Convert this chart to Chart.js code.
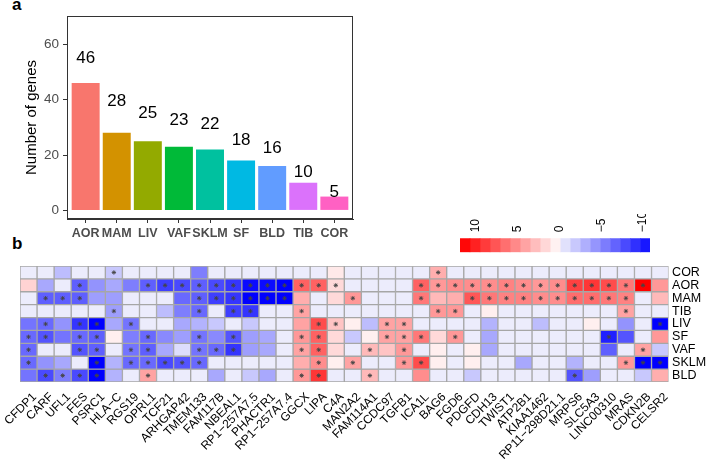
<!DOCTYPE html>
<html><head><meta charset="utf-8">
<script src="https://cdn.jsdelivr.net/npm/chart.js@4.4.0/dist/chart.umd.min.js"></script>
<style>
html,body{margin:0;padding:0;background:#fff;width:706px;height:460px;overflow:hidden;font-family:"Liberation Sans",Arial,sans-serif;}
canvas{position:absolute;}
.plabel{position:absolute;font-weight:bold;font-size:17px;line-height:17px;color:#000;}
</style></head><body>
<div class="plabel" style="left:12px;top:-4px">a</div>
<div class="plabel" style="left:12px;top:235px">b</div>
<canvas id="bar" width="360" height="245" style="left:0;top:0"></canvas>
<canvas id="key" width="210" height="51" style="left:455px;top:205px"></canvas>
<canvas id="heat" width="706" height="204" style="left:0;top:256px"></canvas>
<script>
// ---------- panel a data ----------
const tissues = ['AOR','MAM','LIV','VAF','SKLM','SF','BLD','TIB','COR'];
const geneCounts = [46,28,25,23,22,18,16,10,5];
const tissueColors = ['#F8766D','#D39200','#93AA00','#00BA38','#00C19F','#00B9E3','#619CFF','#DB72FB','#FF61C3'];
const countTicks = [0,20,40,60];

// ---------- panel b data ----------
const genes = ['CFDP1','CARF','UFL1','FES','PSRC1','HLA\u2212C','RGS19','OPRL1','TCF21','ARHGAP42',
  'TMEM133','FAM117B','NBEAL1','RP1\u2212257A7.5','PHACTR1','RP1\u2212257A7.4','GGCX','LIPA','C4A','MAN2A2',
  'FAM114A1','CCDC97','TGFB1','ICA1L','BAG6','FGD6','PDGFD','CDH13','TWIST1','ATP2B1',
  'KIAA1462','RP11\u2212298D21.1','MRPS6','SLC5A3','LINC00310','MRAS','CDKN2B','CELSR2'];
const rowNames = ['COR','AOR','MAM','TIB','LIV','SF','VAF','SKLM','BLD'];

const zCOR  = [-0.3,-0.3,-2.5,-0.3,-0.3,-2,-0.3,-0.3,-0.3,-0.3, -5.5,-0.3,-0.3,-0.3,-0.3,-0.3,-0.3,-0.3,0.8,-0.3, -0.3,-0.3,-0.3,-0.3,3.5,-0.3,-0.3,-0.3,-0.3,-0.3, -0.3,-0.3,-0.3,-0.3,-0.3,-0.3,-0.3,-0.3];
const zAOR  = [1.8,-3.5,-0.3,-7,-4.5,-3.5,-5.5,-7,-8.5,-8, -7,-8,-9,-11,-11,-12,7,7,1.5,-0.3, -0.3,-0.3,-0.3,7,4.5,5,5,5,5.5,5, 4.5,5,8.5,9,8,6,12,4.5];
const zMAM  = [-0.3,-7,-7,-7,-4,-4,-0.3,-0.3,-0.3,-6.5, -7,-8.5,-9,-12,-12,-12,3.5,-0.3,1.5,4.5, -0.3,-0.3,-0.3,6,3,3.5,7.5,6,5.5,5.5, 5,5,6.5,6.5,6,5.5,-0.3,3];
const zTIB  = [-0.3,-0.3,-0.3,-0.3,-0.3,-4,-0.3,-0.3,-2.5,-5.5, -6.5,-0.3,-8.5,-9,-0.3,-0.3,4,-0.3,-0.3,-0.3, -0.3,-0.3,-0.3,-0.3,4.5,4.5,-0.3,0.5,-0.3,-0.3, -0.3,-0.3,-0.3,-0.3,-0.3,4,-0.3,-0.3];
const zLIV  = [-6,-6.5,-4.5,-9,-12,-3.5,-6,-0.3,-0.3,-3.5, -3,-2,-0.3,-2,-0.3,-0.3,4,8,2.5,0.5, -2.5,4,4,-0.3,-0.3,-0.3,-0.3,-3,-0.3,-0.3, -2.5,-0.3,-0.3,0.5,-0.3,-4.5,-0.3,-12];
const zSF   = [-6.5,-7.5,-6,-6.5,-7,0.5,-5.5,-6.5,-5,-4, -6,-5,-7.5,-4,-3.5,-0.3,4.5,7,1.5,-2, 0.5,4,4,6,1.5,4.5,-0.3,-3.5,-0.3,-0.3, -0.3,-0.3,-0.3,-0.3,-10,-7.5,-0.3,4.5];
const zVAF  = [-6.5,-0.3,-0.3,-7.5,-7,-0.3,-6,-7,-3.5,-1, -6,-6.5,-9,-4,-3.5,-0.3,4,7,1.5,-0.3, 3,2.5,4.5,-0.3,0.5,-0.3,0.5,-3.5,-0.3,-0.3, -0.3,-0.3,-0.3,-0.3,-7,-0.3,4,-2];
const zSKLM = [-6.5,-4.5,-3.5,-0.3,-12,-3,-6.5,-6.5,-8,-7.5, -6.5,-0.3,-0.3,-0.3,-0.3,-0.3,3.5,5,0.5,4, -0.3,-0.3,4.5,8,0.5,-0.3,0.5,-0.3,-0.3,-3.5, -0.3,-0.3,-3,-0.3,-0.3,4.5,-12,-12];
const zBLD  = [-6,-8,-5.5,-8,-12,-3,-0.3,4,-0.3,-0.3, -0.3,-3.5,-0.3,-2,-3.5,-0.3,4.5,9,-0.3,-0.3, 3,-0.3,-0.3,5,-0.3,-0.3,-2,-0.3,-0.3,-0.3, -0.3,-0.3,-7.5,-4,-0.3,-0.3,-2,3.5];

// significant cells (gene indices) per tissue
const sCOR  = [5,24];
const sAOR  = [3,7,8,9,10,11,12,13,14,15,16,17,18,23,24,25,26,27,28,29,30,31,32,33,34,35,36];
const sMAM  = [1,2,3,10,11,12,13,14,15,19,23,26,27,28,29,30,31,32,33,34,35];
const sTIB  = [5,10,12,13,16,24,25,35];
const sLIV  = [1,3,4,6,17,18,21,22,37];
const sSF   = [0,1,3,4,7,10,12,16,17,21,22,23,25,34];
const sVAF  = [0,3,4,6,7,10,11,12,16,17,20,22,36];
const sSKLM = [0,4,6,7,8,9,10,17,19,22,23,35,36,37];
const sBLD  = [1,2,3,4,7,16,17,20,32];

// colour key
const keyTicks = [10,5,0,-5,-10];
const keySteps = [11.2,10.0,8.8,7.6,6.4,5.2,4.0,2.8,1.6,0.4,-0.8,-2.0,-3.2,-4.4,-5.6,-6.8,-8.0,-9.2,-10.4];

const heatRows = [zCOR,zAOR,zMAM,zTIB,zLIV,zSF,zVAF,zSKLM,zBLD];
const starRows = [sCOR,sAOR,sMAM,sTIB,sLIV,sSF,sVAF,sSKLM,sBLD];

Chart.defaults.font.family = '"Liberation Sans", Arial, sans-serif';

function heatColor(v){
  if (v >= 0){ const t=Math.min(v/11.5,1); const c=Math.round(250*(1-t)); return `rgb(255,${c},${c})`; }
  const t=Math.min(-v/11.5,1); const c=Math.round(242*(1-t)); const b=Math.round(252+3*t);
  return `rgb(${c},${c},${b})`;
}
const noPad = s=>{s.paddingLeft=0; s.paddingRight=0; s.paddingTop=0; s.paddingBottom=0;};

// ---------- panel a ----------
const boxPlugin = {id:'box', afterDraw(chart){
  const a=chart.chartArea, ctx=chart.ctx; ctx.save(); ctx.strokeStyle='#333'; ctx.lineWidth=1;
  ctx.strokeRect(Math.round(a.left)+0.5, Math.round(a.top)+0.5, Math.round(a.right-a.left)-1, Math.round(a.bottom-a.top)-1);
  ctx.restore();
}};
const valueLabels = {id:'valueLabels', afterDatasetsDraw(chart){
  const ctx=chart.ctx, meta=chart.getDatasetMeta(0), ys=chart.scales.y;
  ctx.save(); ctx.font='17px "Liberation Sans", Arial, sans-serif'; ctx.fillStyle='#000';
  ctx.textAlign='center'; ctx.textBaseline='alphabetic';
  meta.data.forEach((bar,i)=>{
    const v=geneCounts[i]; const ly=Math.min(v*1.43,55.3);
    ctx.fillText(String(v), bar.x, ys.getPixelForValue(ly)+6.1);
  });
  ctx.restore();
}};

new Chart(document.getElementById('bar'), {
  type:'bar',
  data:{datasets:[{data:geneCounts.map((v,i)=>({x:i+1,y:v})), backgroundColor:tissueColors,
    borderWidth:0, categoryPercentage:0.9, barPercentage:1}]},
  options:{responsive:false, animation:false, devicePixelRatio:1,
    layout:{padding:{left:0,top:16,right:7,bottom:0}},
    plugins:{legend:{display:false}, tooltip:{enabled:false}},
    scales:{
      x:{type:'linear', offset:false, min:0.4, max:9.6,
        afterBuildTicks:s=>{s.ticks=tissues.map((_,i)=>({value:i+1}));},
        afterFit:s=>{s.height=26; noPad(s);},
        grid:{offset:false, drawOnChartArea:false, drawTicks:true, tickLength:4, color:'#333', lineWidth:1},
        border:{display:true, color:'#333', width:1},
        ticks:{autoSkip:false, maxRotation:0, minRotation:0, padding:3, color:'#4D4D4D',
          font:{size:12.5, weight:'bold'}, callback:v=>tissues[Math.round(v)-1]}},
      y:{min:-3.1, max:70.2,
        afterBuildTicks:s=>{s.ticks=countTicks.map(v=>({value:v}));},
        afterFit:s=>{s.width=67; noPad(s);},
        grid:{drawOnChartArea:false, drawTicks:true, tickLength:4, color:'#333', lineWidth:1},
        border:{display:true, color:'#333', width:1},
        ticks:{padding:4, color:'#4D4D4D', font:{size:13.5}},
        title:{display:true, text:'Number of genes', color:'#000', font:{size:15}, padding:{top:23,bottom:0}}}
    }
  },
  plugins:[boxPlugin, valueLabels]
});

// ---------- colour key ----------
new Chart(document.getElementById('key'), {
  type:'bar',
  data:{labels:['k'], datasets:keySteps.map(v=>({data:[[v-0.6,v+0.6]], backgroundColor:heatColor(v),
    borderWidth:0, grouped:false, categoryPercentage:1, barPercentage:1}))},
  options:{responsive:false, animation:false, devicePixelRatio:1, indexAxis:'y',
    layout:{padding:{left:5,right:15,top:9,bottom:3.7}},
    plugins:{legend:{display:false}, tooltip:{enabled:false}},
    scales:{
      x:{type:'linear', position:'top', min:-10.96, max:11.8, reverse:true,
        afterBuildTicks:s=>{s.ticks=keyTicks.map(v=>({value:v}));},
        afterFit:s=>{s.height=24.3; noPad(s);},
        grid:{display:false, drawTicks:false}, border:{display:false},
        ticks:{autoSkip:false, minRotation:90, maxRotation:90, padding:6, labelOffset:15.5, color:'#000', font:{size:12},
          callback:v=>v<0?'\u2212'+Math.abs(v):String(v)}},
      y:{display:false}
    }
  }
});

// ---------- heatmap ----------
const heatDatasets = heatRows.map((vals,r)=>({
  type:'bar', data:genes.map(()=>[r,r+1]), backgroundColor:vals.map(heatColor),
  borderColor:'#A6A6A6', borderWidth:1, borderSkipped:false, grouped:false,
  categoryPercentage:1, barPercentage:1, order:2
}));
const starPoints = [];
starRows.forEach((cols,r)=>cols.forEach(c=>starPoints.push({x:genes[c], y:r+0.5})));
heatDatasets.push({type:'line', data:starPoints, showLine:false, pointStyle:'star',
  pointRadius:2.2, pointBorderColor:'#444', pointBackgroundColor:'#444', pointBorderWidth:0.9, order:1});

new Chart(document.getElementById('heat'), {
  type:'bar',
  data:{labels:genes, datasets:heatDatasets},
  options:{responsive:false, animation:false, devicePixelRatio:1,
    layout:{padding:{left:20,top:10,right:0,bottom:0}},
    plugins:{legend:{display:false}, tooltip:{enabled:false}},
    scales:{
      x:{type:'category', offset:true, afterFit:s=>{s.height=78; noPad(s);},
        grid:{display:false, drawTicks:false}, border:{display:false},
        ticks:{autoSkip:false, minRotation:45, maxRotation:45, padding:8, labelOffset:6, color:'#000', font:{size:12}}},
      y:{type:'linear', position:'right', min:0, max:9, reverse:true,
        afterBuildTicks:s=>{s.ticks=rowNames.map((_,i)=>({value:i+0.5}));},
        afterFit:s=>{s.width=37.4; noPad(s);},
        grid:{display:false, drawTicks:false}, border:{display:false},
        ticks:{autoSkip:false, padding:3.5, color:'#000', font:{size:12.5}, callback:v=>rowNames[Math.floor(v)]}}
    }
  }
});
</script>
</body></html>
